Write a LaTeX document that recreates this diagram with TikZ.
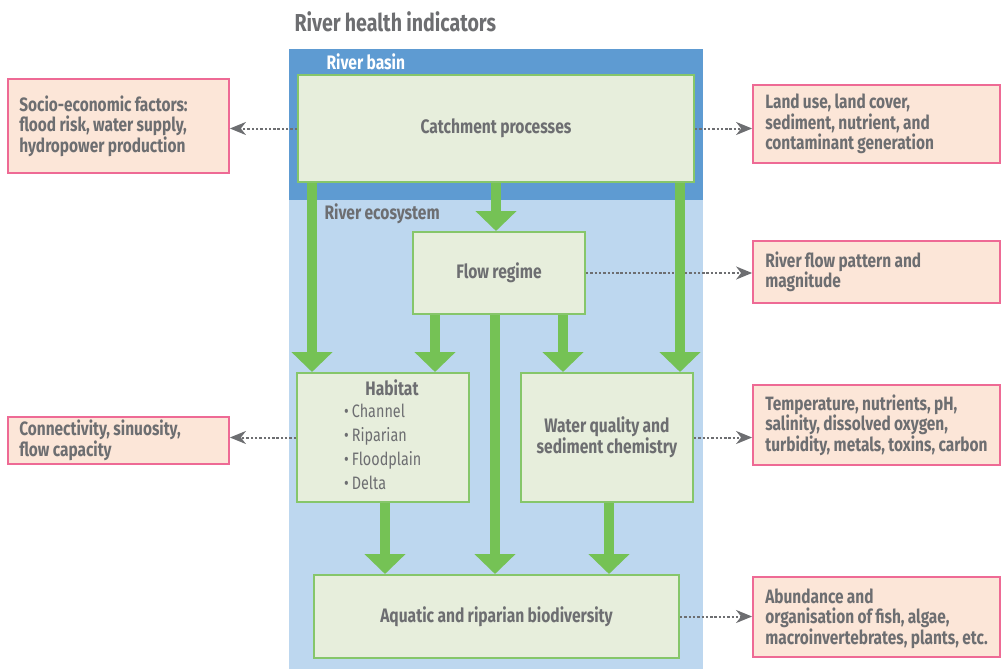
\documentclass[tikz,border=0pt]{standalone}
\usepackage{fontspec}
\setmainfont{Fira Sans}[FakeStretch=0.8, WordSpace=0.9]
\frenchspacing
\usetikzlibrary{arrows.meta}
\definecolor{basinblue}{HTML}{5E9BD2}
\definecolor{ecoblue}{HTML}{BDD7EF}
\definecolor{boxfill}{HTML}{E7EEDC}
\definecolor{boxline}{HTML}{86C66A}
\definecolor{flowgreen}{HTML}{75C255}
\definecolor{notefill}{HTML}{FCE6D8}
\definecolor{noteline}{HTML}{EE6A95}
\definecolor{ink}{HTML}{6D6E71}
\tikzset{
  procbox/.style={draw=boxline, line width=2pt, fill=boxfill, inner sep=0pt,
    text=ink, font=\bfseries\fontsize{19.5}{21}\selectfont, align=center},
  notebox/.style={draw=noteline, line width=1.8pt, fill=notefill, inner sep=0pt},
  notetext/.style={anchor=west, inner sep=0pt, text=ink, align=left,
    font=\bfseries\fontsize{19.3}{20.5}\selectfont},
  fat/.style={draw=flowgreen, line width=10pt,
    -{Triangle[length=20pt, width=40pt, color=flowgreen]}},
  link/.style={draw=ink, line width=2pt, dash pattern=on 2.4pt off 1.9pt,
    -{Stealth[length=16pt, width=13pt, inset=5pt, color=ink]}}
}
\begin{document}
\begin{tikzpicture}[x=1pt, y=-1pt]
\useasboundingbox (0,0) rectangle (1001,669);
% basin and ecosystem panels
\fill[ecoblue] (289,200) rectangle (703,669);
\fill[basinblue] (289,49) rectangle (703,200);
\node[anchor=west, text=ink, font=\bfseries\fontsize{24.5}{28}\selectfont] (title) at (291,22) {River health indicators};
\node[anchor=west, text=white, font=\bfseries\fontsize{19.5}{21}\selectfont] (basin) at (323,62) {River basin};
\node[anchor=west, text=ink, font=\bfseries\fontsize{19.5}{21}\selectfont] (eco) at (321,214) {River ecosystem};

% process boxes
\node[procbox, minimum width=396pt, minimum height=107pt] (catch) at (496,128.5) {Catchment processes};
\node[procbox, minimum width=172pt, minimum height=82pt] (flow) at (499,273) {Flow regime};
\node[procbox, minimum width=172pt, minimum height=129pt] (hab) at (383,437.5) {};
\node[procbox, minimum width=172pt, minimum height=129pt] (wq) at (607,437.5) {Water quality and\\sediment chemistry};
\node[procbox, minimum width=365pt, minimum height=83pt] (bio) at (496.5,616.5) {Aquatic and riparian biodiversity};
\node[text=ink, font=\bfseries\fontsize{19.5}{21}\selectfont, anchor=center] (habtitle) at (392,388) {Habitat};
\node[text=ink, font=\fontsize{18}{24}\selectfont, align=left, anchor=north west, inner sep=0pt] (habitems) at (344,404)
  {\textbullet\,Channel\\\textbullet\,Riparian\\\textbullet\,Floodplain\\\textbullet\,Delta};

% indicator notes
\node[notebox, minimum width=221pt, minimum height=94pt] (socio) at (118.5,126) {};
\node[notetext] (sociotext) at ([xshift=12pt]socio.west) {Socio-economic factors:\\flood risk, water supply,\\hydropower production};
\node[notebox, minimum width=247pt, minimum height=78pt] (land) at (876.5,124) {};
\node[notetext] (landtext) at ([xshift=13pt]land.west) {Land use, land cover,\\sediment, nutrient, and\\contaminant generation};
\node[notebox, minimum width=247pt, minimum height=62pt] (pattern) at (876.5,272) {};
\node[notetext] (patterntext) at ([xshift=13pt]pattern.west) {River flow pattern and\\magnitude};
\node[notebox, minimum width=221pt, minimum height=47pt] (conn) at (118.5,440.5) {};
\node[notetext] (conntext) at ([xshift=12pt]conn.west) {Connectivity, sinuosity,\\flow capacity};
\node[notebox, minimum width=247pt, minimum height=80pt] (temp) at (876.5,425) {};
\node[notetext] (temptext) at ([xshift=13pt]temp.west) {Temperature, nutrients, pH,\\salinity, dissolved oxygen,\\turbidity, metals, toxins, carbon};
\node[notebox, minimum width=247pt, minimum height=80pt] (abund) at (876.5,617) {};
\node[notetext] (abundtext) at ([xshift=13pt,yshift=-1.5pt]abund.west) {Abundance and\\organisation of fish, algae,\\macroinvertebrates, plants, etc.};

% dotted indicator links (under the green flows)
\draw[link] (catch.west) -- (catch.west -| socio.east);
\draw[link] (catch.east) -- (catch.east -| land.west);
\draw[link] (flow.east) -- (flow.east -| pattern.west);
\draw[link] (hab.west) -- (hab.west -| conn.east);
\draw[link] (wq.east) -- (wq.east -| temp.west);
\draw[link] (bio.east) -- (bio.east -| abund.west);

% green flows
\draw[fat] (catch.south) -- (catch.south |- flow.north);
\draw[fat] ([xshift=15pt]catch.south west) -- ([xshift=15pt]catch.south west |- hab.north);
\draw[fat] ([xshift=-15pt]catch.south east) -- ([xshift=-15pt]catch.south east |- wq.north);
\draw[fat] ([xshift=-64pt]flow.south) -- ([xshift=-64pt]flow.south |- hab.north);
\draw[fat] ([xshift=64pt]flow.south) -- ([xshift=64pt]flow.south |- wq.north);
\draw[fat] ([xshift=-4pt]flow.south) -- ([xshift=-4pt]flow.south |- bio.north);
\draw[fat] ([xshift=2pt]hab.south) -- ([xshift=2pt]hab.south |- bio.north);
\draw[fat] ([xshift=2pt]wq.south) -- ([xshift=2pt]wq.south |- bio.north);
\end{tikzpicture}
\end{document}
